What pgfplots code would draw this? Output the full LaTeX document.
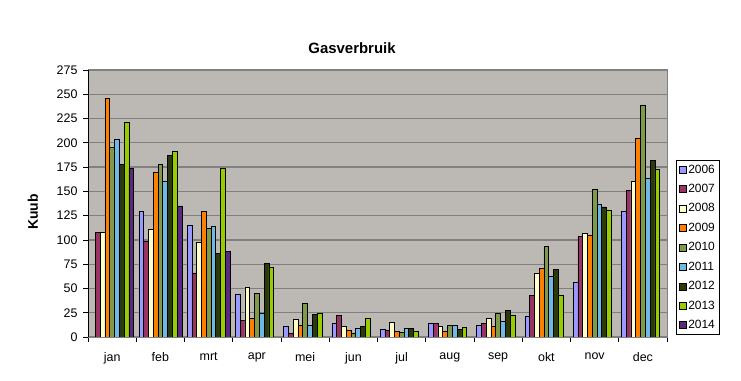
\documentclass[border=0pt]{standalone}
\usepackage{fontspec}
\setmainfont{Liberation Sans}
\usepackage{pgfplots}
\pgfplotsset{compat=1.18}
\definecolor{cA}{HTML}{9999FF}
\definecolor{cB}{HTML}{993366}
\definecolor{cC}{HTML}{FFFFCC}
\definecolor{cD}{HTML}{FF8000}
\definecolor{cE}{HTML}{7F9A48}
\definecolor{cF}{HTML}{70B8E8}
\definecolor{cG}{HTML}{2A3A0A}
\definecolor{cH}{HTML}{99CC00}
\definecolor{cI}{HTML}{5A2A82}
\definecolor{bgc}{HTML}{BCB9B5}
\definecolor{grd}{HTML}{808080}
\begin{document}
\begin{tikzpicture}
\useasboundingbox (0bp,0bp) rectangle (741bp,381bp);
\begin{axis}[
  at={(88bp,44bp)}, anchor=south west, scale only axis,
  width=579bp, height=267bp,
  ybar=0pt, bar width=0.099,
  xmin=-0.5, xmax=11.5, ymin=0, ymax=275,
  xtick={0,...,11},
  xticklabels={jan,feb,mrt,apr,mei,jun,jul,aug,sep,okt,nov,dec},
  major x tick style={draw=none},
  minor xtick={-0.5,0.5,...,11.5},
  minor tick length=5bp,
  ytick={0,25,...,275},
  major tick length=5bp,
  tick align=outside,
  xtick pos=bottom, ytick pos=left,
  tick style={black, line width=0.8bp},
  ymajorgrids, major grid style={draw=grd, line width=1.2bp},
  axis background/.style={fill=bgc},
  axis line style={draw=grd, line width=1bp},
  /pgf/number format/assume math mode=true,
  ticklabel style={font=\fontsize{12.5}{14}\selectfont},
  xticklabel style={yshift=-7bp},
  yticklabel style={xshift=-2bp},
  legend style={at={(1.0155,0.663)}, anchor=north west, draw=black, fill=white,
    font=\fontsize{12}{13}\selectfont, inner sep=2.5bp, row sep=5.6bp, line width=0.6bp},
  legend cell align=left,
  legend image code/.code={\draw[#1,draw=black,line width=0.5bp] (0bp,-3.5bp) rectangle (7bp,3.5bp);},
  every axis plot/.append style={draw=black, line width=0.6bp},
]
\addplot[fill=cA] coordinates {(1,129) (2,115) (3,44) (4,11) (5,14) (6,8) (7,14) (8,12) (9,21) (10,56) (11,129)};
\addplot[fill=cB] coordinates {(0,108) (1,99) (2,66) (3,17) (4,4) (5,22) (6,7) (7,14) (8,14) (9,43) (10,104) (11,151)};
\addplot[fill=cC] coordinates {(0,108) (1,111) (2,98) (3,51) (4,18) (5,11) (6,15) (7,11) (8,19) (9,66) (10,107) (11,160)};
\addplot[fill=cD] coordinates {(0,246) (1,170) (2,129) (3,19) (4,12) (5,7) (6,6) (7,6) (8,11) (9,71) (10,105) (11,205)};
\addplot[fill=cE] coordinates {(0,195) (1,178) (2,112) (3,45) (4,35) (5,4) (6,5) (7,12) (8,24) (9,93) (10,152) (11,239)};
\addplot[fill=cF] coordinates {(0,204) (1,160) (2,114) (3,24) (4,12) (5,9) (6,9) (7,12) (8,16) (9,63) (10,137) (11,163)};
\addplot[fill=cG] coordinates {(0,178) (1,187) (2,86) (3,76) (4,23) (5,11) (6,9) (7,8) (8,27) (9,70) (10,134) (11,182)};
\addplot[fill=cH] coordinates {(0,221) (1,191) (2,174) (3,72) (4,24) (5,19) (6,6) (7,10) (8,22) (9,43) (10,130) (11,173)};
\addplot[fill=cI] coordinates {(0,174) (1,135) (2,88)};
\legend{2006,2007,2008,2009,2010,2011,2012,2013,2014}
\draw[black, line width=0.9bp] (rel axis cs:0,1) -- (rel axis cs:0,0) -- (rel axis cs:1,0);
\end{axis}
\node[font=\fontsize{15}{17}\selectfont\bfseries] at (352bp,333bp) {Gasverbruik};
\node[font=\fontsize{14}{16}\selectfont\bfseries, rotate=90] at (33bp,169bp) {Kuub};
\end{tikzpicture}
\end{document}
